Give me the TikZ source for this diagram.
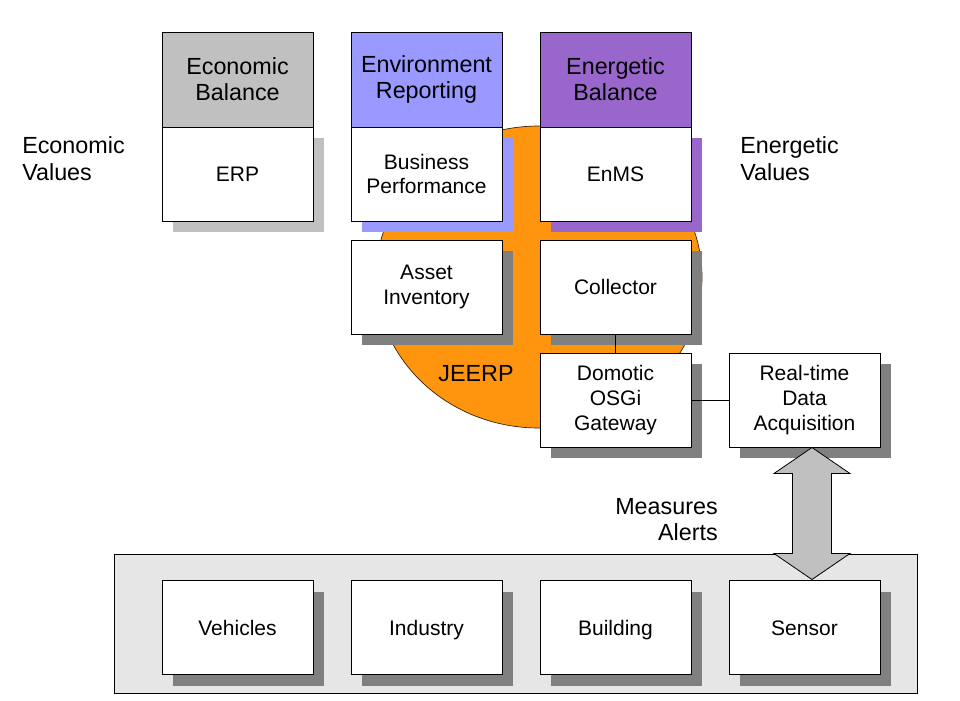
\documentclass[tikz,border=0pt]{standalone}
\usepackage{fontspec}
\setmainfont{Liberation Sans}
\usetikzlibrary{shadows}
\definecolor{egray}{HTML}{C0C0C0}
\definecolor{eblue}{HTML}{9999FF}
\definecolor{epurple}{HTML}{9966CC}
\definecolor{shadowgray}{HTML}{808080}
\definecolor{jorange}{HTML}{FF950E}
\definecolor{basegray}{HTML}{E6E6E6}
\begin{document}
\begin{tikzpicture}[x=0.75pt,y=-0.75pt,
 box/.style={draw=black, line width=0.75pt, fill=white, minimum width=113.25pt, minimum height=70.5pt, inner sep=0pt, align=center, font=\fontsize{15.75}{18.5}\selectfont},
 oneline/.style={text height=11.3pt, text depth=0pt},
 header/.style={box, font=\fontsize{17.5}{19.5}\selectfont, minimum height=71.25pt},
 shad/.style={drop shadow={shadow xshift=8.5pt, shadow yshift=-8.5pt, opacity=1, fill=#1, draw=none}},
 biglabel/.style={inner sep=0pt, font=\fontsize{17.5}{20}\selectfont},
 link/.style={draw=black, line width=0.75pt}
]
\fill[white] (0,0) rectangle (960,700);
\useasboundingbox (0,0) rectangle (960,700);

% base container
\node[draw=black, line width=0.75pt, fill=basegray, minimum width=602.25pt, minimum height=104.25pt, inner sep=0pt] (base) at (515.5,623.5) {};

% JEERP ellipse
\draw[fill=jorange, draw=black!80!jorange, line width=0.5pt] (539,277) ellipse [x radius=163, y radius=151];

% top row
\node[header, fill=egray] (econ) at (237.5,79.5) {Economic\\Balance};
\node[header, fill=eblue] (env) at (426.5,79.5) {Environment\\Reporting};
\node[header, fill=epurple] (energ) at (615.5,79.5) {Energetic\\Balance};

\node[box, oneline, shad=egray] (erp) at (237.5,174) {ERP};
\node[box, shad=eblue] (bp) at (426.5,174) {Business\\Performance};
\node[box, oneline, shad=epurple] (enms) at (615.5,174) {EnMS};

\node[box, shad=shadowgray] (asset) at (426.5,287) {Asset\\Inventory};
\node[box, oneline, shad=shadowgray] (coll) at (615.5,287) {Collector};

\node[box, shad=shadowgray] (dom) at (615.5,400) {Domotic\\OSGi\\Gateway};
\node[box, shad=shadowgray] (rt) at (804.5,400) {Real-time\\Data\\Acquisition};

% bottom row
\node[box, oneline, shad=shadowgray] (veh) at (237.5,627.5) {Vehicles};
\node[box, oneline, shad=shadowgray] (ind) at (426.5,627.5) {Industry};
\node[box, oneline, shad=shadowgray] (bld) at (615.5,627.5) {Building};
\node[box, oneline, shad=shadowgray] (sens) at (804.5,627.5) {Sensor};

% connectors
\draw[link] (coll) -- (dom);
\draw[link] (dom) -- (rt);

% double arrow between rt and sensor
\coordinate (ta) at ([xshift=5.6pt]rt.south);
\draw[fill=egray, draw=black, line width=0.6pt, line join=miter]
  (ta) -- ++(38,26) -- ++(-18.5,0) -- ++(0,80) -- ++(18.5,0) -- ++(-38,26)
  -- ++(-38,-26) -- ++(18.5,0) -- ++(0,-80) -- ++(-18.5,0) -- cycle;

% labels
\node[biglabel, align=left, anchor=west] (ev) at (22,158.5) {Economic\\Values};
\node[biglabel, align=left, anchor=west] (nv) at (740,158.5) {Energetic\\Values};
\node[biglabel, align=right, anchor=east] (ma) at (718,519.5) {Measures\\Alerts};
\node[biglabel] (jl) at (476,374) {JEERP};
\end{tikzpicture}
\end{document}
